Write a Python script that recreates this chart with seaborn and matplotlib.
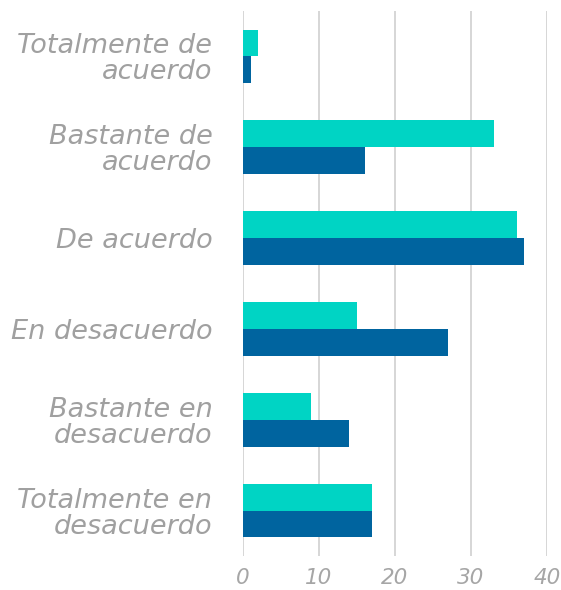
import matplotlib
matplotlib.use("Agg")
import matplotlib.pyplot as plt
import seaborn as sns
import pandas as pd

categories = ["Totalmente de\nacuerdo", "Bastante de\nacuerdo", "De acuerdo",
              "En desacuerdo", "Bastante en\ndesacuerdo", "Totalmente en\ndesacuerdo"]
serie_a = [2, 33, 36, 15, 9, 17]
serie_b = [1, 16, 37, 27, 14, 17]
series_names = ["A", "B"]
xticks = [0, 10, 20, 30, 40]

df = pd.DataFrame({
    "cat": categories * 2,
    "val": serie_a + serie_b,
    "serie": [series_names[0]] * len(categories) + [series_names[1]] * len(categories),
})

sns.set_theme(style="white")
plt.rcParams['font.family'] = ['DejaVu Sans']

fig = plt.figure(figsize=(5.61, 5.90), dpi=100)
ax = fig.add_axes([243/561, (590-556)/590, (547-243)/561, (556-11)/590])

sns.barplot(data=df, y="cat", x="val", hue="serie", orient="h",
            palette=["#00D4C4", "#00649F"], width=0.59, gap=0,
            legend=False, ax=ax, saturation=1, linewidth=0, edgecolor="none")

ax.set_xlim(0, 40)
ax.set_xticks(xticks)
ax.set_xlabel("")
ax.set_ylabel("")
ax.grid(axis="x", color="#d0d0d0", linewidth=1.2)
ax.set_axisbelow(True)
for s in ax.spines.values():
    s.set_visible(False)
ax.tick_params(axis="x", length=3, color="#d0d0d0", width=1.2, pad=6,
               labelsize=15.5, labelcolor="#a6a6a6")
ax.tick_params(axis="y", length=0, pad=22, labelsize=19.5, labelcolor="#a0a0a0")
for t in ax.get_xticklabels():
    t.set_fontstyle("italic")
for t in ax.get_yticklabels():
    t.set_fontstyle("italic")
    t.set_linespacing(1.0)
    t.set_multialignment("right")

fig.savefig("out.png", dpi=100)
